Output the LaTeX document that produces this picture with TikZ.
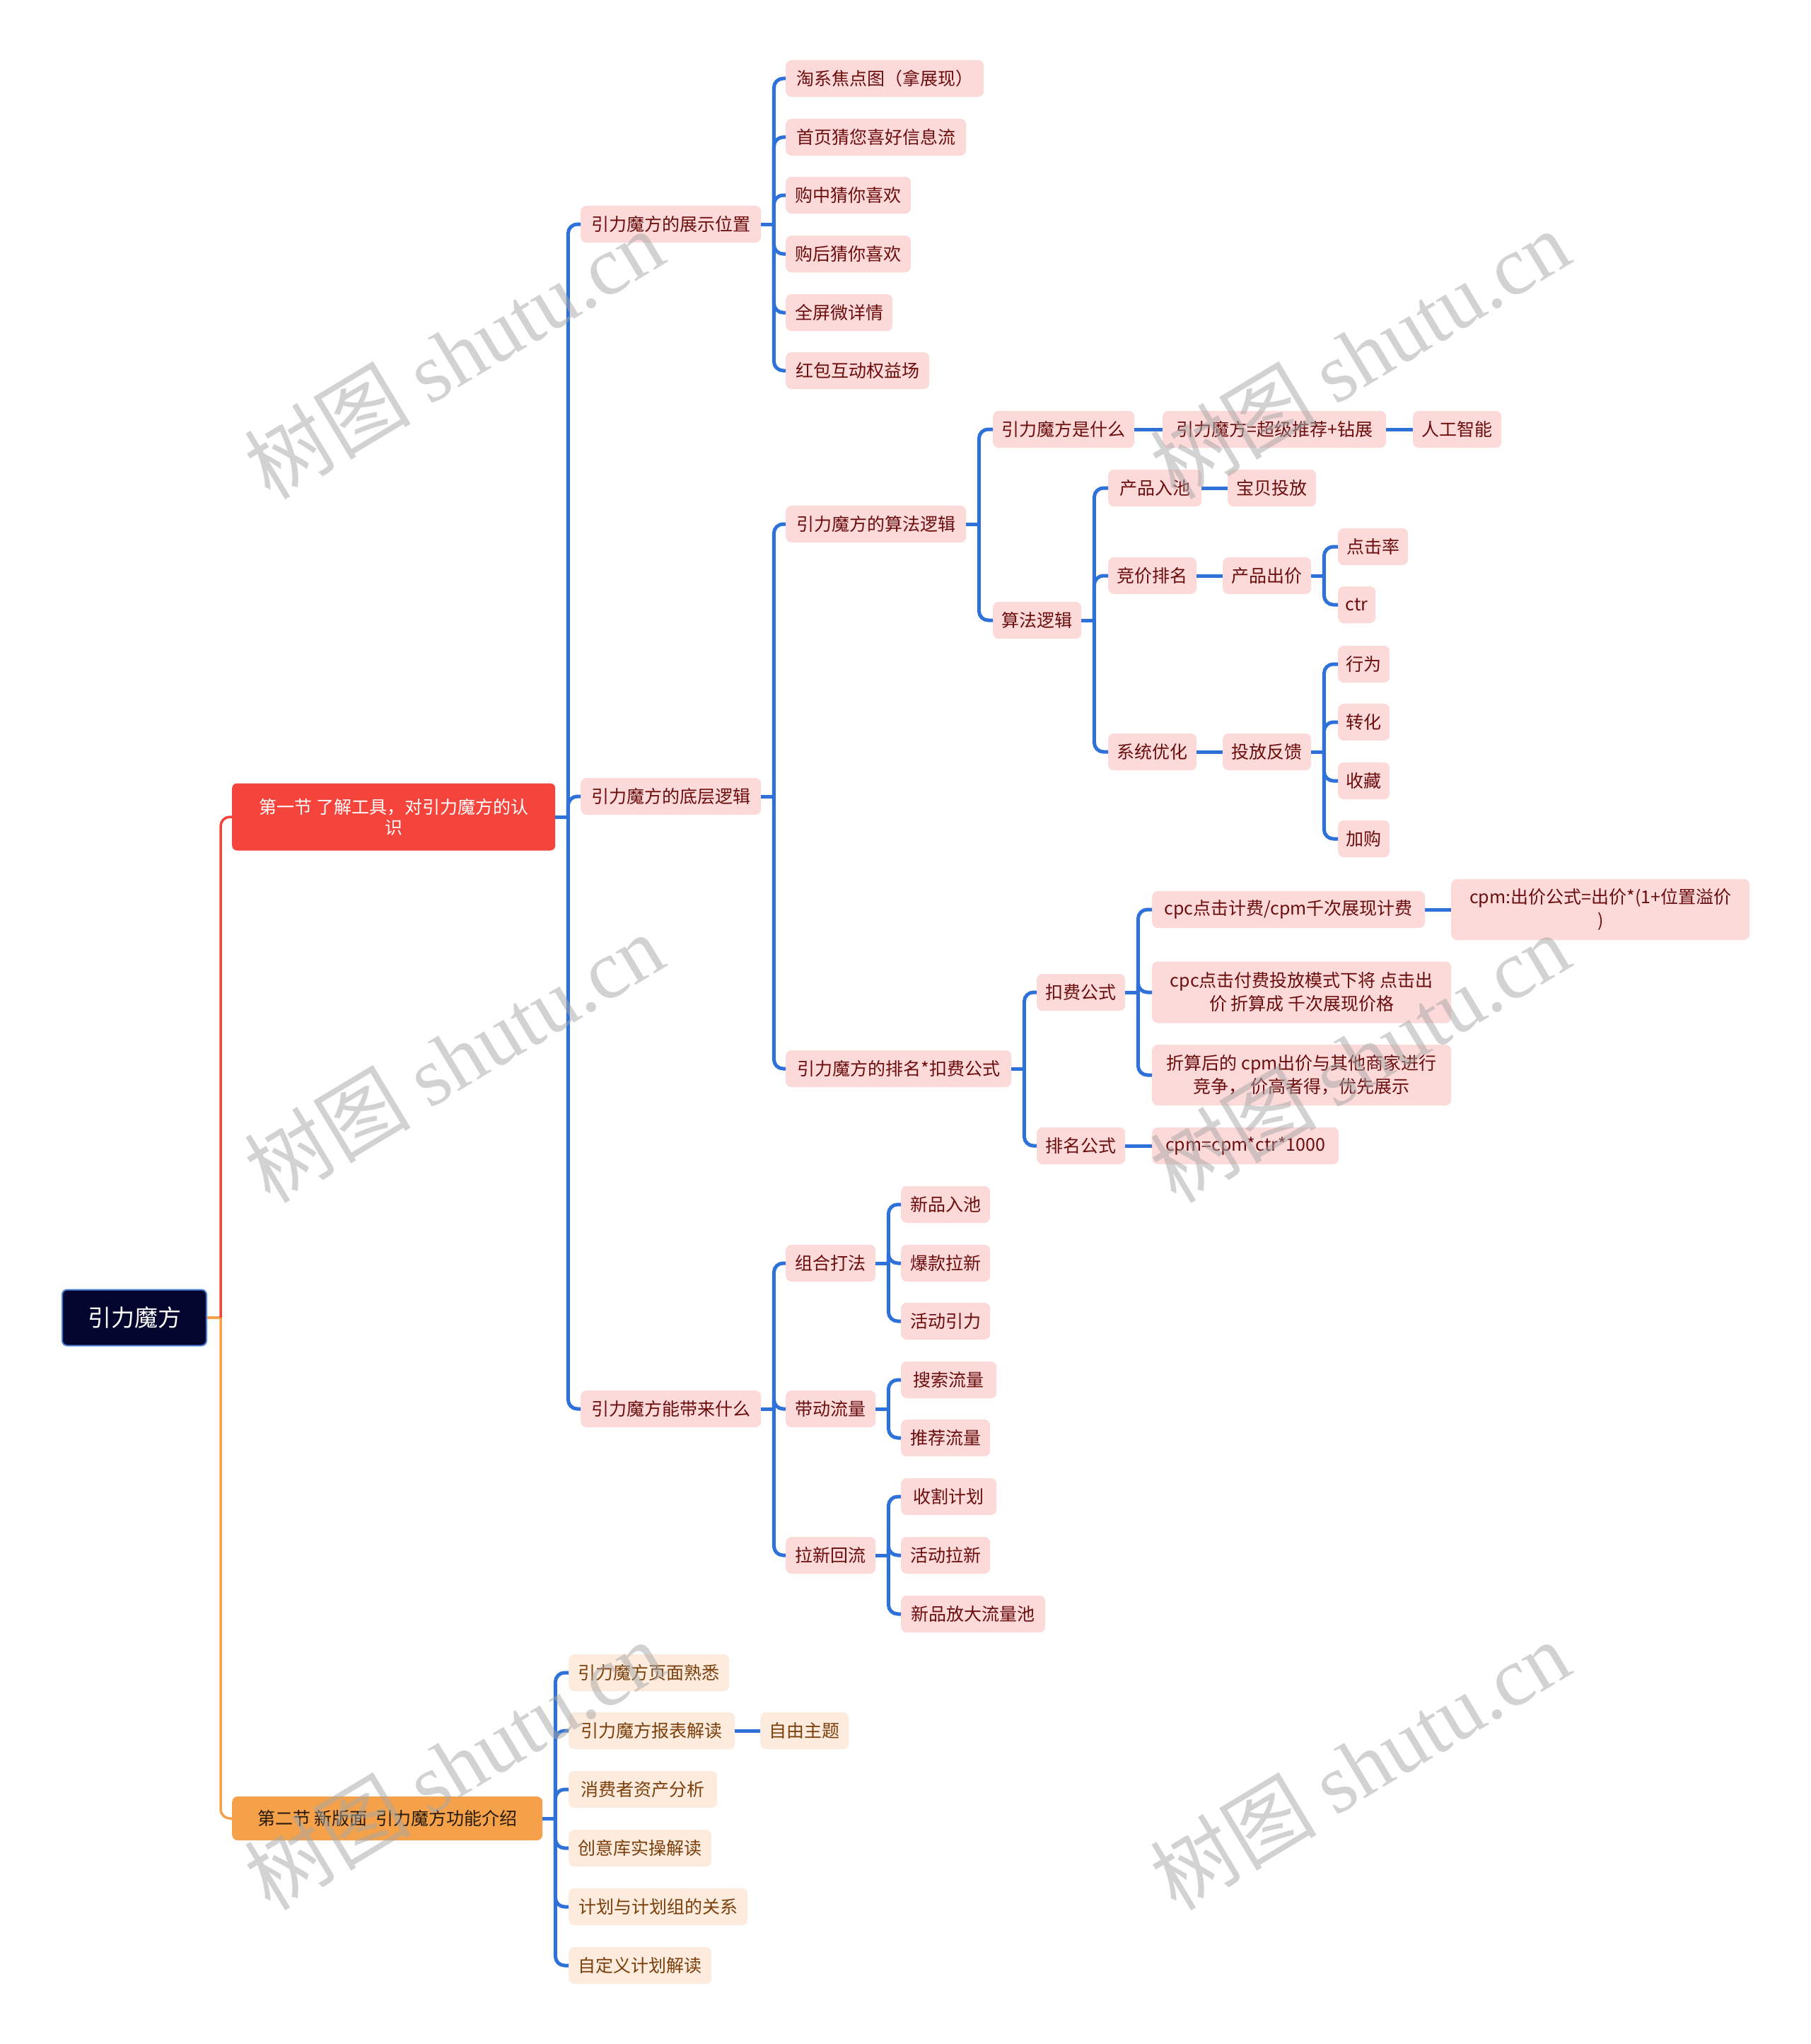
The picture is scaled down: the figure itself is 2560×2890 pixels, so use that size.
\documentclass[tikz,border=0pt]{standalone}
\usepackage{fontspec}
\newfontfamily\cjk{Noto Sans CJK SC}
\newfontfamily\wmlatin{Liberation Serif}
\usetikzlibrary{calc}
\definecolor{linkblue}{HTML}{2E71D8}
\definecolor{pinkfill}{HTML}{FDDADA}
\definecolor{pinktext}{HTML}{6B0D0D}
\definecolor{peachfill}{HTML}{FDEBDD}
\definecolor{peachtext}{HTML}{7B3F0B}
\definecolor{redsec}{HTML}{F4443C}
\definecolor{orangesec}{HTML}{F5A14A}
\definecolor{rootfill}{HTML}{03052E}
\definecolor{rootedge}{HTML}{4A7FD6}
\definecolor{wmgray}{HTML}{A6A6A6}
\tikzset{
  box/.style={rounded corners=8pt, minimum height=52pt, inner xsep=10pt, inner ysep=0pt,
    align=center, font=\cjk\fontsize{25}{33}\selectfont},
  pk/.style={box, fill=pinkfill, text=pinktext},
  pc/.style={box, fill=peachfill, text=peachtext},
  conn/.style={draw=linkblue, line width=5pt, rounded corners=13pt},
  wm/.style={text=wmgray, text opacity=0.5, font=\cjk\fontsize{118}{120}\selectfont, inner sep=0pt, anchor=base, rotate=31},
}
% node: style, name, x1, x2, cy, text
\newcommand\nd[6]{\node[#1, anchor=west, minimum width={#4pt-#3pt}] (#2) at (#3,#5) {#6};}
\newcommand\stub[1]{\coordinate (#1-b) at ([xshift=18pt]#1.east); \draw[conn] (#1.east) -- (#1-b);}
\newcommand\fk[2]{\draw[conn] (#1-b) |- (#2.west);}
\newcommand\lnk[2]{\draw[conn] (#1.east) -- (#2.west);}
\begin{document}
\begin{tikzpicture}[x=1pt,y=-1pt]
\useasboundingbox[fill=white] (0,0) rectangle (2560,2890);

% root and sections
\node[box, anchor=west, minimum width=204pt, minimum height=79pt, fill=rootfill, draw=rootedge, line width=2pt, rounded corners=7pt, text=white, font=\cjk\fontsize{33}{40}\selectfont] (root) at (87,1863) {引力魔方};
\node[box, anchor=west, minimum width=457pt, minimum height=95pt, fill=redsec, text=white, rounded corners=7pt] (s1) at (328,1155) {第一节 了解工具，对引力魔方的认\\[-4pt]识};
\node[box, anchor=west, minimum width=439pt, minimum height=62pt, fill=orangesec, text=black!80!brown, rounded corners=8pt] (s2) at (328,2571) {第二节 新版面\ \ 引力魔方功能介绍};

% level 2
\nd{pk}{a}{821}{1076}{317}{引力魔方的展示位置}
\nd{pk}{b}{821}{1076}{1126}{引力魔方的底层逻辑}
\nd{pk}{c}{821}{1076}{1992}{引力魔方能带来什么}

% section 2 children
\nd{pc}{d1}{804}{1031}{2365}{引力魔方页面熟悉}
\nd{pc}{d2}{804}{1039}{2447}{引力魔方报表解读}
\nd{pc}{d2a}{1075}{1200}{2447}{自由主题}
\nd{pc}{d3}{804}{1014}{2530}{消费者资产分析}
\nd{pc}{d4}{804}{1006}{2613}{创意库实操解读}
\nd{pc}{d5}{804}{1057}{2696}{计划与计划组的关系}
\nd{pc}{d6}{804}{1006}{2779}{自定义计划解读}

% a children
\nd{pk}{a1}{1111}{1391}{111}{淘系焦点图（拿展现）}
\nd{pk}{a2}{1111}{1366}{194}{首页猜您喜好信息流}
\nd{pk}{a3}{1111}{1288}{276}{购中猜你喜欢}
\nd{pk}{a4}{1111}{1288}{359}{购后猜你喜欢}
\nd{pk}{a5}{1111}{1262}{442}{全屏微详情}
\nd{pk}{a6}{1111}{1314}{524}{红包互动权益场}

% b children
\nd{pk}{b1}{1111}{1366}{741}{引力魔方的算法逻辑}
\nd{pk}{b2}{1111}{1430}{1511}{引力魔方的排名*扣费公式}

% b1 subtree
\nd{pk}{e1}{1404}{1604}{607}{引力魔方是什么}
\nd{pk}{e1a}{1644}{1960}{607}{引力魔方=超级推荐+钻展}
\nd{pk}{e1b}{1998}{2123}{607}{人工智能}
\nd{pk}{e2}{1404}{1529}{877}{算法逻辑}
\nd{pk}{f1}{1567}{1699}{690}{产品入池}
\nd{pk}{f1a}{1736}{1861}{690}{宝贝投放}
\nd{pk}{f2}{1567}{1692}{814}{竞价排名}
\nd{pk}{f2a}{1729}{1854}{814}{产品出价}
\nd{pk}{g1}{1892}{1991}{773}{点击率}
\nd{pk}{g2}{1892}{1945}{855}{ctr}
\nd{pk}{f3}{1567}{1692}{1063}{系统优化}
\nd{pk}{f3a}{1729}{1854}{1063}{投放反馈}
\nd{pk}{h1}{1892}{1965}{939}{行为}
\nd{pk}{h2}{1892}{1965}{1021}{转化}
\nd{pk}{h3}{1892}{1965}{1104}{收藏}
\nd{pk}{h4}{1892}{1965}{1186}{加购}

% b2 subtree
\nd{pk}{k1}{1466}{1591}{1403}{扣费公式}
\nd{pk}{k2}{1466}{1591}{1620}{排名公式}
\nd{pk}{m1}{1629}{2015}{1286}{cpc点击计费/cpm千次展现计费}
\node[pk, anchor=west, minimum width=422pt, minimum height=86pt] (m1a) at (2052,1286) {cpm:出价公式=出价*(1+位置溢价\\)};
\node[pk, anchor=west, minimum width=423pt, minimum height=87pt] (m2) at (1629,1403) {cpc点击付费投放模式下将 点击出\\价 折算成 千次展现价格};
\node[pk, anchor=west, minimum width=423pt, minimum height=86pt] (m3) at (1629,1520) {折算后的 cpm出价与其他商家进行\\竞争， 价高者得，优先展示};
\nd{pk}{n1}{1629}{1893}{1620}{cpm=cpm*ctr*1000}

% c children
\nd{pk}{c1}{1111}{1238}{1786}{组合打法}
\nd{pk}{c2}{1111}{1238}{1992}{带动流量}
\nd{pk}{c3}{1111}{1238}{2199}{拉新回流}
\nd{pk}{c1a}{1274}{1400}{1703}{新品入池}
\nd{pk}{c1b}{1274}{1400}{1786}{爆款拉新}
\nd{pk}{c1c}{1274}{1400}{1868}{活动引力}
\nd{pk}{c2a}{1274}{1409}{1951}{搜索流量}
\nd{pk}{c2b}{1274}{1400}{2033}{推荐流量}
\nd{pk}{c3a}{1274}{1409}{2116}{收割计划}
\nd{pk}{c3b}{1274}{1400}{2199}{活动拉新}
\nd{pk}{c3c}{1274}{1478}{2282}{新品放大流量池}

% root connectors
\coordinate (root-b) at ([xshift=19pt]root.east);
\draw[draw=orangesec, line width=3.5pt] (root.east) -- (root-b);
\draw[draw=redsec, line width=3.5pt, rounded corners=13pt] (root-b) |- (s1.west);
\draw[draw=orangesec, line width=3.5pt, rounded corners=13pt] (root-b) |- (s2.west);

% section 1
\stub{s1} \fk{s1}{a} \fk{s1}{b} \fk{s1}{c}
\stub{a} \fk{a}{a1} \fk{a}{a2} \fk{a}{a3} \fk{a}{a4} \fk{a}{a5} \fk{a}{a6}
\stub{b} \fk{b}{b1} \fk{b}{b2}
\stub{b1} \fk{b1}{e1} \fk{b1}{e2}
\lnk{e1}{e1a} \lnk{e1a}{e1b}
\stub{e2} \fk{e2}{f1} \fk{e2}{f2} \fk{e2}{f3}
\lnk{f1}{f1a} \lnk{f2}{f2a} \lnk{f3}{f3a}
\stub{f2a} \fk{f2a}{g1} \fk{f2a}{g2}
\stub{f3a} \fk{f3a}{h1} \fk{f3a}{h2} \fk{f3a}{h3} \fk{f3a}{h4}
\stub{b2} \fk{b2}{k1} \fk{b2}{k2}
\stub{k1} \fk{k1}{m1} \fk{k1}{m2} \fk{k1}{m3}
\lnk{m1}{m1a} \lnk{k2}{n1}
\stub{c} \fk{c}{c1} \fk{c}{c2} \fk{c}{c3}
\stub{c1} \fk{c1}{c1a} \fk{c1}{c1b} \fk{c1}{c1c}
\stub{c2} \fk{c2}{c2a} \fk{c2}{c2b}
\stub{c3} \fk{c3}{c3a} \fk{c3}{c3b} \fk{c3}{c3c}

% section 2
\stub{s2} \fk{s2}{d1} \fk{s2}{d2} \fk{s2}{d3} \fk{s2}{d4} \fk{s2}{d5} \fk{s2}{d6}
\lnk{d2}{d2a}

% watermarks
\foreach \wx/\wy [count=\i] in {665/539, 665/1534, 665/2534, 1946/539, 1946/1534, 1946/2534} {
  \node[wm] (wm\i) at (\wx,\wy) {树图 {\wmlatin shutu.cn}};
}
\end{tikzpicture}
\end{document}
